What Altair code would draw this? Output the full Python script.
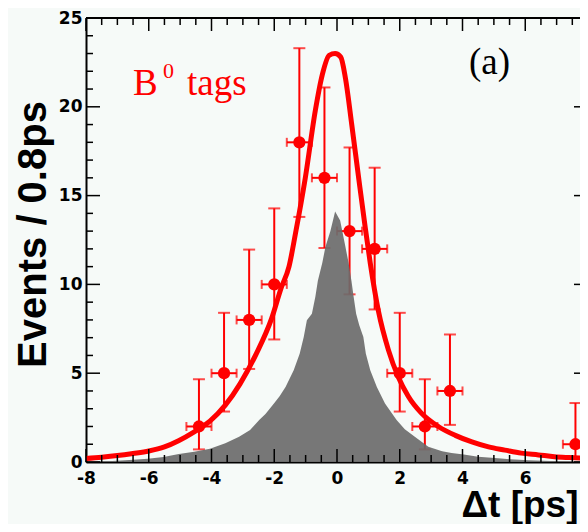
import altair as alt
import pandas as pd

# ---- data ----
# measured points (0.8 ps bins)
dt_centers = [-4.4, -3.6, -2.8, -2.0, -1.2, -0.4, 0.4, 1.2, 2.0, 2.8, 3.6, 7.6]
events = [2, 5, 8, 10, 18, 16, 13, 12, 5, 2, 4, 1]
err_low = [0.71, 2.84, 5.24, 6.90, 13.8, 12.05, 9.44, 8.59, 2.84, 0.71, 2.09, 0.17]
err_high = [4.66, 8.40, 11.96, 14.28, 23.3, 21.09, 17.71, 16.57, 8.40, 4.66, 7.18, 3.32]
bin_half = 0.4

# fitted curve (red)
fit_x = [-8, -7.5, -7.0, -6.5, -6.0, -5.5, -5.05, -4.55, -4.05, -3.56, -3.09, -2.57,
         -2.08, -1.78, -1.53, -1.32, -1.01, -0.69, -0.47, -0.25, -0.06, 0.12, 0.27,
         0.47, 0.69, 0.90, 1.06, 1.32, 1.64, 1.95, 2.27, 2.69, 3.23, 3.77, 4.30, 4.83,
         5.35, 5.87, 6.42, 6.93, 7.40, 8.0]
fit_y = [0.2, 0.27, 0.36, 0.48, 0.62, 0.85, 1.2, 1.7, 2.3, 3.2, 4.4, 6.1,
         8.1, 9.8, 11.0, 12.9, 16.0, 19.8, 21.8, 22.9, 23.0, 22.8, 21.6,
         19.0, 16.0, 13.2, 11.2, 8.5, 6.3, 4.8, 3.7, 2.75, 2.0, 1.5, 1.13, 0.85,
         0.67, 0.5, 0.4, 0.3, 0.25, 0.2]

# grey shaded distribution
bkg_x = [-8, -7.5, -7.0, -6.5, -6.03, -5.53, -5.04, -4.55, -4.05, -3.56, -3.12, -2.77,
         -2.48, -2.28, -2.01, -1.83, -1.64, -1.38, -1.19, -1.06, -0.96, -0.80, -0.69,
         -0.61, -0.47, -0.37, -0.21, -0.06, 0.10, 0.27, 0.37, 0.46, 0.53, 0.61, 0.71,
         0.84, 0.92, 1.06, 1.27, 1.53, 1.90, 2.16, 2.48, 2.91, 3.35, 3.65, 4.04, 4.50,
         5.03, 5.52, 6.11, 6.80, 8.0]
bkg_y = [0.0, 0.03, 0.07, 0.12, 0.18, 0.28, 0.45, 0.58, 0.75, 1.05, 1.42, 1.8,
         2.36, 2.7, 3.3, 3.7, 4.23, 5.17, 6.1, 7.04, 7.98, 8.35, 9.3,
         10.2, 11.2, 12.1, 13.0, 14.1, 13.6, 12.1, 11.2, 10.2, 9.3, 8.35, 7.7,
         7.04, 6.1, 5.17, 4.23, 3.3, 2.36, 1.85, 1.42, 0.86, 0.6, 0.5, 0.42, 0.3,
         0.22, 0.16, 0.1, 0.05, 0.02]

x_major = [-8, -6, -4, -2, 0, 2, 4, 6, 8]
x_minor = [-7.5, -7, -6.5, -5.5, -5, -4.5, -3.5, -3, -2.5, -1.5, -1, -0.5,
           0.5, 1, 1.5, 2.5, 3, 3.5, 4.5, 5, 5.5, 6.5, 7, 7.5]
y_major = [0, 5, 10, 15, 20, 25]
y_minor = [1, 2, 3, 4, 6, 7, 8, 9, 11, 12, 13, 14, 16, 17, 18, 19, 21, 22, 23, 24]

x_title = "Δt [ps]"
y_title = "Events / 0.8ps"
tag_main = "B"
tag_sup = "0"
tag_rest = "tags"
panel_label = "(a)"

# ---- frames ----
pts = pd.DataFrame({"x": dt_centers, "n": events, "lo": err_low, "hi": err_high})
fit = pd.DataFrame({"x": fit_x, "y": fit_y})
bkg = pd.DataFrame({"x": bkg_x, "y": bkg_y})
xmaj = pd.DataFrame({"v": x_major})
xmin = pd.DataFrame({"v": x_minor})
ymaj = pd.DataFrame({"v": y_major})
ymin = pd.DataFrame({"v": y_minor})

VIEW_W = 494   # visible part of the plot inside the page
W = 502        # full x range (right frame sits at the window edge)
H = 444
RED = "#ff0000"

xs = alt.Scale(domain=[-8, 8], range=[0, W], nice=False, zero=False)
ys = alt.Scale(domain=[0, 25], nice=False, zero=False)

x_axis = alt.Axis(values=x_major, labelExpr="'' + datum.value", ticks=False, grid=False,
                  domain=True, domainWidth=2, domainColor="black", labelFlush=False,
                  labelFont="DejaVu Sans", labelFontWeight="bold", labelFontSize=17,
                  labelColor="black", labelPadding=8,
                  title=x_title, titleFont="Liberation Sans", titleFontWeight="bold",
                  titleFontSize=37, titleColor="black", titleX=VIEW_W - 2, titleY=54,
                  titleAlign="right", titleBaseline="alphabetic", titleAngle=0)
y_axis = alt.Axis(values=y_major, ticks=False, grid=False, labelFlush=False,
                  domain=True, domainWidth=2, domainColor="black",
                  labelFont="DejaVu Sans", labelFontWeight="bold", labelFontSize=17,
                  labelColor="black", labelPadding=4,
                  title=y_title, titleFont="Liberation Sans", titleFontWeight="bold",
                  titleFontSize=40, titleColor="black", titleX=-41, titleY=216,
                  titleAlign="center", titleBaseline="alphabetic", titleAngle=270)

base_pts = alt.Chart(pts).transform_calculate(
    xl=f"datum.x - {bin_half}", xr=f"datum.x + {bin_half}")

vbars = base_pts.mark_rule(color=RED, strokeWidth=2).encode(
    x=alt.X("x:Q", scale=xs, axis=x_axis),
    y=alt.Y("lo:Q", scale=ys, axis=y_axis),
    y2="hi:Q")
caps = alt.Chart(pts).transform_fold(["lo", "hi"], as_=["k", "yv"]).mark_tick(
    color=RED, orient="horizontal", size=12, thickness=2).encode(
    x=alt.X("x:Q", scale=xs), y=alt.Y("yv:Q", scale=ys))
hbars = base_pts.mark_rule(color=RED, strokeWidth=2).encode(
    x=alt.X("xl:Q", scale=xs), x2="xr:Q", y=alt.Y("n:Q", scale=ys))
hcaps = base_pts.transform_fold(["xl", "xr"], as_=["k", "xv"]).mark_tick(
    color=RED, orient="vertical", size=9, thickness=2).encode(
    x=alt.X("xv:Q", scale=xs), y=alt.Y("n:Q", scale=ys))

area = alt.Chart(bkg).mark_area(color="#6b6b6b", opacity=0.92, interpolate="linear").encode(
    x=alt.X("x:Q", scale=xs), y=alt.Y("y:Q", scale=ys))
curve = alt.Chart(fit).mark_line(color=RED, strokeWidth=5, interpolate="monotone",
                                 strokeJoin="round").encode(
    x=alt.X("x:Q", scale=xs), y=alt.Y("y:Q", scale=ys))
dots = alt.Chart(pts).mark_circle(color=RED, size=150, opacity=1).encode(
    x=alt.X("x:Q", scale=xs), y=alt.Y("n:Q", scale=ys))

def xticks(df, y0, y1):
    return alt.Chart(df).mark_rule(color="black", strokeWidth=1.5).encode(
        x=alt.X("v:Q", scale=xs), y=alt.value(y0), y2=alt.value(y1))

def yticks(df, x0, x1):
    return alt.Chart(df).mark_rule(color="black", strokeWidth=1.5).encode(
        y=alt.Y("v:Q", scale=ys), x=alt.value(x0), x2=alt.value(x1))

ticks = [
    xticks(xmaj, H, H - 13), xticks(xmin, H, H - 7),
    xticks(xmaj, 0, 13), xticks(xmin, 0, 7),
    yticks(ymaj, 0, 14), yticks(ymin, 0, 7),
    yticks(ymaj, W, W - 14), yticks(ymin, W, W - 7),
]
top_line = alt.Chart(xmaj).mark_rule(color="black", strokeWidth=2).encode(
    x=alt.value(0), x2=alt.value(W), y=alt.value(0))

def label(txt, px, py, size, color, font="Liberation Serif"):
    return alt.Chart(pd.DataFrame({"t": [txt]})).mark_text(
        align="left", baseline="alphabetic", font=font, fontSize=size, color=color).encode(
        text="t:N", x=alt.value(px), y=alt.value(py))

texts = [
    label(tag_main, 47, 77, 37, RED),
    label(tag_sup, 77, 60, 22, RED),
    label(tag_rest, 101, 77, 37, RED),
    label(panel_label, 383, 56, 37, "black"),
]

chart = alt.layer(
    vbars, caps, hbars, hcaps, area, curve, dots, top_line, *ticks, *texts
).properties(
    width=VIEW_W, height=H,
    autosize=alt.AutoSizeParams(type="none"),
    padding={"left": 78, "top": 10, "right": 0, "bottom": 62},
    background="#f6faf8",
).configure_view(stroke=None)

chart.save("out.html", embed_options={"renderer": "svg", "actions": False})
